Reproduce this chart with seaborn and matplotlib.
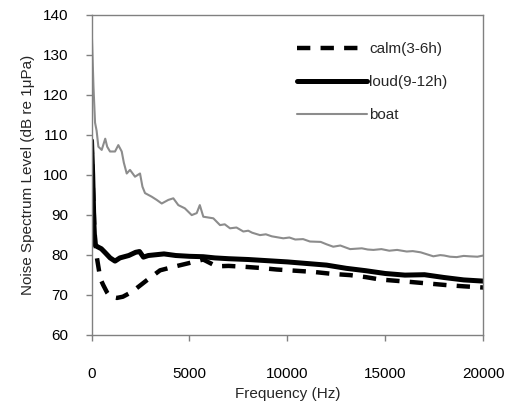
import matplotlib
matplotlib.use("Agg")
import matplotlib.pyplot as plt
import seaborn as sns

# =============================================
# values (Hz, dB re 1uPa)
calm_freq = [0, 60, 150, 250, 350, 450, 600, 800, 950, 1300, 1600, 2060, 2820, 3500,
             4290, 4890, 5700, 6380, 7000, 7750, 8600, 9450, 10400, 11330, 12300,
             13200, 14000, 14730, 15500, 16260, 17200, 18130, 19000, 20000]
calm_db = [108.5, 98, 86, 80, 77, 74, 72.4, 70.5, 69.5, 69.2, 69.5, 70.7, 73.6, 76.1,
           77.1, 77.8, 78.8, 77.1, 77.2, 77.0, 76.7, 76.3, 76.0, 75.7, 75.2,
           74.9, 74.4, 73.8, 73.5, 73.2, 72.8, 72.4, 72.1, 71.8]

loud_freq = [0, 60, 120, 170, 300, 500, 700, 950, 1200, 1450, 1900, 2250, 2450, 2650,
             2900, 3300, 3700, 4300, 5000, 5700, 6300, 7000, 8000, 9000, 10000,
             11000, 12000, 13000, 14000, 15000, 16000, 17000, 18000, 19000, 20000]
loud_db = [108.5, 100, 88, 82.5, 82, 81.5, 80.5, 79.2, 78.4, 79.2, 79.8, 80.6, 80.8, 79.4,
           79.8, 80.0, 80.2, 79.8, 79.6, 79.5, 79.2, 79.0, 78.8, 78.5, 78.2,
           77.8, 77.4, 76.6, 76.0, 75.3, 74.9, 75.0, 74.3, 73.7, 73.4]

boat_freq = [20, 100, 180, 260, 350, 520, 700, 800, 944, 1200, 1368, 1542, 1650, 1797,
             1965, 2220, 2476, 2600, 2731, 3073, 3328, 3584, 3921, 4176, 4431, 4763,
             5115, 5370, 5528, 5707, 6218, 6560, 6800, 7070, 7400, 7750, 8000, 8200,
             8600, 8900, 9200, 9790, 10100, 10400, 10800, 11150, 11700, 12000, 12340,
             12700, 13200, 13800, 14100, 14390, 14800, 15200, 15600, 16090, 16400,
             16800, 17450, 17800, 18000, 18300, 18640, 19000, 19300, 19700, 20000]
boat_db = [134.5, 122, 113, 111, 107, 106.2, 109, 107, 105.8, 105.8, 107.4, 105.8, 103,
           100.3, 101.2, 99.5, 100.3, 97, 95.4, 94.5, 93.7, 92.8, 93.7, 94.1, 92.4, 91.6,
           89.9, 90.4, 92.4, 89.5, 89.1, 87.4, 87.6, 86.6, 86.8, 85.8, 86.0, 85.5,
           84.9, 85.1, 84.6, 84.1, 84.3, 83.8, 83.9, 83.3, 83.2, 82.6, 82.0,
           82.3, 81.4, 81.6, 81.3, 81.2, 81.4, 81.0, 81.2, 80.8, 80.9,
           80.6, 79.6, 79.9, 79.8, 79.5, 79.4, 79.7, 79.6, 79.5, 79.8]

x_ticks = [0, 5000, 10000, 15000, 20000]
y_ticks = [60, 70, 80, 90, 100, 110, 120, 130, 140]

# =============================================
sns.set_style("ticks")
plt.rcParams['font.family'] = ['Liberation Sans', 'DejaVu Sans']
frame_col = '#808080'

f = plt.figure(figsize=(5.09, 4.07), dpi=100)
ax = f.add_axes([0.1798, 0.1776, 0.7697, 0.7863])

sns.lineplot(x=calm_freq, y=calm_db, ax=ax, color='black', lw=3.2,
             label='calm(3-6h)', sort=False, estimator=None)
ax.lines[-1].set_dashes((3.0, 2.3))
sns.lineplot(x=loud_freq, y=loud_db, ax=ax, color='black', lw=3.6,
             label='loud(9-12h)', sort=False, estimator=None)
sns.lineplot(x=boat_freq, y=boat_db, ax=ax, color='#8c8c8c', lw=1.5,
             label='boat', sort=False, estimator=None)

ax.set_xlim(0, 20000)
ax.set_ylim(60, 140)
ax.set_xticks(x_ticks)
ax.set_yticks(y_ticks)
ax.tick_params(axis='both', which='both', direction='out', length=4.5, width=1,
               color=frame_col, labelsize=11, labelcolor='black',
               bottom=True, left=True)
ax.tick_params(axis='x', pad=19)
ax.tick_params(axis='y', pad=12)
for s in ax.spines.values():
    s.set_visible(True)
    s.set_color(frame_col)
    s.set_linewidth(1)

ax.set_xlabel('Frequency (Hz)', fontsize=11, labelpad=4)
ax.set_ylabel('Noise Spectrum Level (dB re 1\u03bcPa)', fontsize=11, labelpad=6)

ax.legend(loc='upper left', bbox_to_anchor=(0.524, 0.914), frameon=False, fontsize=11,
          handlelength=4.6, handletextpad=0.15, labelspacing=1.25,
          borderpad=0, borderaxespad=0)

f.savefig('out.png', dpi=100)
